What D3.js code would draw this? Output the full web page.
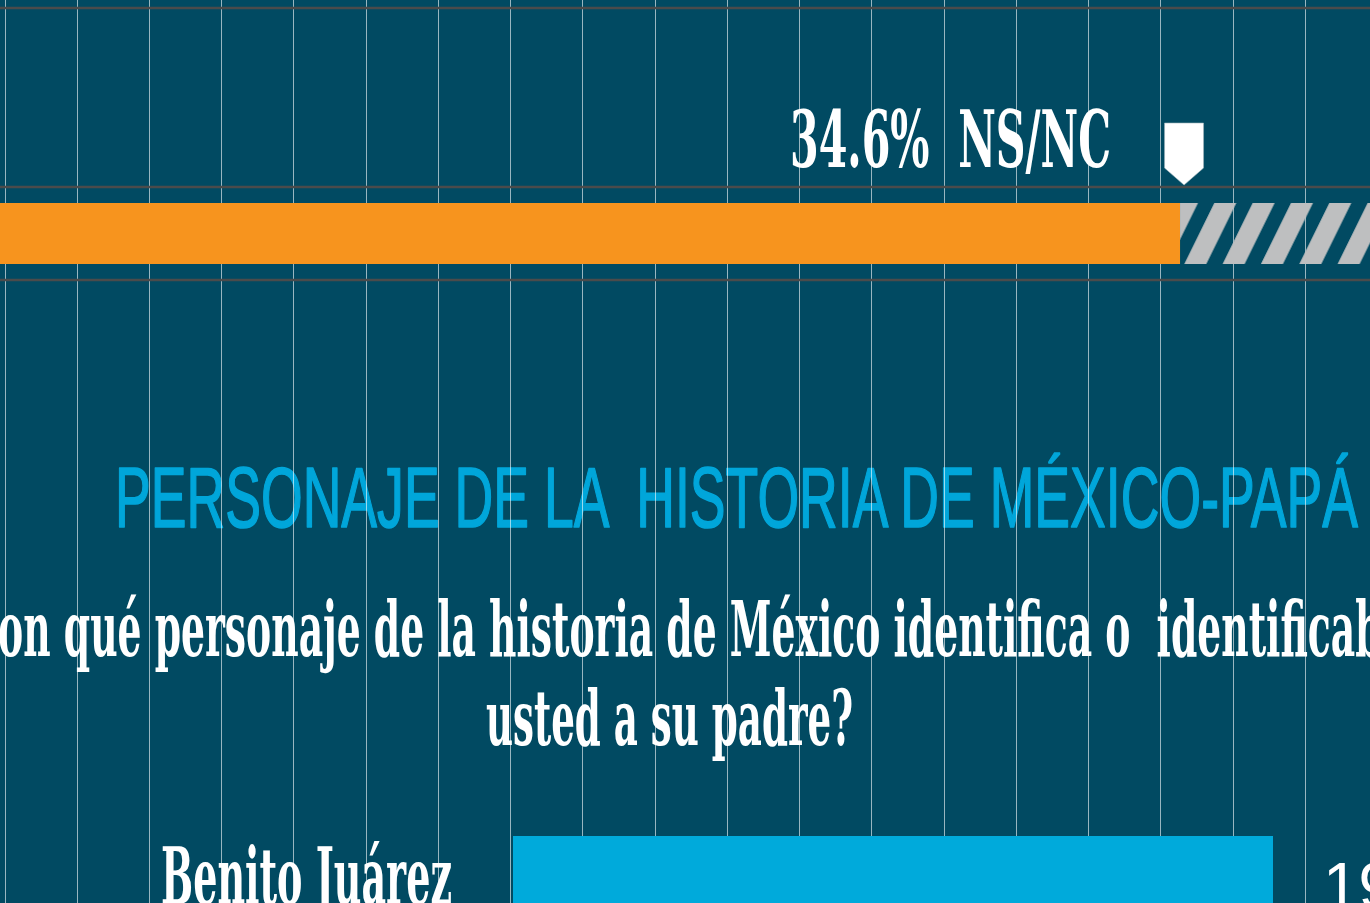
<!DOCTYPE html>
<html>
<head>
<meta charset="utf-8">
<script src="https://cdn.jsdelivr.net/npm/d3@7"></script>
<style>
    html, body { margin: 0; padding: 0; background: #014a62; overflow: hidden; }
    svg { display: block; }
    text { white-space: pre; }
</style>
</head>
<body>
<svg id="chart"></svg>
<script>
// data
var segments = ["Respuesta", "NS/NC"];
var segmentValues = [65.4, 34.6];
var personajes = ["Benito Juárez"];
var personajeValues = [19.4];
var titleText = "PERSONAJE DE LA  HISTORIA DE MÉXICO-PAPÁ";
var questionLines = ["¿Con qué personaje de la historia de México identifica o  identificaba", "usted a su padre?"];

var width = 1370, height = 903;
var bg = "#014a62";

var svg1 = d3.select("#chart")
    .attr("width", width)
    .attr("height", height);

svg1.append("rect")
    .attr("width", width)
    .attr("height", height)
    .attr("fill", bg);

var defs = svg1.append("defs");

// diagonal hatch for the NS/NC part of the bar
var hatch = defs.append("pattern")
    .attr("id", "hatch")
    .attr("patternUnits", "userSpaceOnUse")
    .attr("width", 38.33)
    .attr("height", 100)
    .attr("patternTransform", "skewX(-26.2)");
hatch.append("rect")
    .attr("x", 11)
    .attr("y", 0)
    .attr("width", 22)
    .attr("height", 100)
    .attr("fill", "#bebfc0");

var serif = "'DejaVu Serif', 'Liberation Serif', serif";
var narrow = "'Liberation Sans Narrow', 'Liberation Sans', sans-serif";

// helper: text squeezed to a measured width
function fitText(g, str, left, baseline, w, size, family, weight, color) {
    return g.append("text")
        .attr("x", left)
        .attr("y", baseline)
        .attr("textLength", w)
        .attr("lengthAdjust", "spacingAndGlyphs")
        .style("font-family", family)
        .style("font-size", size + "px")
        .style("font-weight", weight)
        .style("font-stretch", "condensed")
        .attr("fill", color)
        .text(str);
}

// ---- texts (drawn under the grid) ----
var texts = svg1.append("g");

// Top bar scale (the bar starts off the left edge)
var x = d3.scaleLinear()
    .domain([0, 100])
    .range([-590, 2116.5]);

var barY = 203, barH = 61;
var split = x(segmentValues[0]);

var nsLabel = d3.format(".1f")(segmentValues[1]) + "%  " + segments[1];
fitText(texts, nsLabel, split - 69 - 321, 167, 321, 78, serif, "bold", "#ffffff");

fitText(texts, titleText, 115, 527, 1243, 86, narrow, "normal", "#00a6da")
    .attr("stroke", "#00a6da")
    .attr("stroke-width", 1.6)
    .attr("stroke-linejoin", "round");

fitText(texts, questionLines[0], -54, 656, 1460, 77, serif, "bold", "#ffffff");
fitText(texts, questionLines[1], 486, 745, 367, 77, serif, "bold", "#ffffff");

// ---- vertical grid ----
var gridX = d3.scaleLinear()
    .domain([0, 19])
    .range([4.5, 4.5 + 72.25 * 19]);

svg1.append("g")
    .selectAll("line")
    .data(gridX.ticks(19))
    .enter()
    .append("line")
    .attr("x1", d => Math.round(gridX(d)) + 0.5)
    .attr("x2", d => Math.round(gridX(d)) + 0.5)
    .attr("y1", 0)
    .attr("y2", height)
    .attr("stroke", "rgba(255,255,255,0.6)")
    .attr("stroke-width", 1);

// ---- horizontal rules around the top bar ----
svg1.append("g")
    .selectAll("line")
    .data([8, 187, 280])
    .enter()
    .append("line")
    .attr("x1", 0)
    .attr("x2", width)
    .attr("y1", d => d)
    .attr("y2", d => d)
    .attr("stroke", "#4b4b4b")
    .attr("stroke-width", 2.5);

// ---- top stacked bar ----
svg1.append("rect")
    .attr("x", x(0))
    .attr("y", barY)
    .attr("width", split - x(0))
    .attr("height", barH)
    .attr("fill", "#f7941e");

svg1.append("rect")
    .attr("x", split)
    .attr("y", barY)
    .attr("width", x(100) - split)
    .attr("height", barH)
    .attr("fill", "url(#hatch)");

// marker over the split
var mx = split + 4;
var marker = d3.path();
marker.moveTo(mx - 19.5, 123);
marker.lineTo(mx + 19.5, 123);
marker.lineTo(mx + 19.5, 168);
marker.lineTo(mx, 185);
marker.lineTo(mx - 19.5, 168);
marker.closePath();
svg1.append("path")
    .attr("d", marker.toString())
    .attr("fill", "#ffffff")
    .attr("stroke", "#9fb3bb")
    .attr("stroke-width", 0.6);

// ---- personaje bars ----
var x2 = d3.scaleLinear()
    .domain([0, d3.max(personajeValues)])
    .range([513, 1273]);

var y2 = d3.scaleBand()
    .domain(personajes)
    .range([836, 976]);

var rows = svg1.selectAll("g.row")
    .data(personajes)
    .enter()
    .append("g")
    .attr("class", "row");

rows.append("rect")
    .attr("x", x2(0))
    .attr("y", d => y2(d))
    .attr("width", (d, i) => x2(personajeValues[i]) - x2(0))
    .attr("height", y2.bandwidth())
    .attr("fill", "#00aadb");

rows.each(function (d, i) {
    var row = d3.select(this);
    fitText(row, d, 161, y2(d) + 68, 291, 78, serif, "bold", "#ffffff");
    row.append("text")
        .attr("x", x2(personajeValues[i]) + 50)
        .attr("y", y2(d) + 72)
        .style("font-family", narrow)
        .style("font-size", "64px")
        .attr("fill", "#ffffff")
        .text(d3.format(".1f")(personajeValues[i]) + "%");
});
</script>
</body>
</html>
